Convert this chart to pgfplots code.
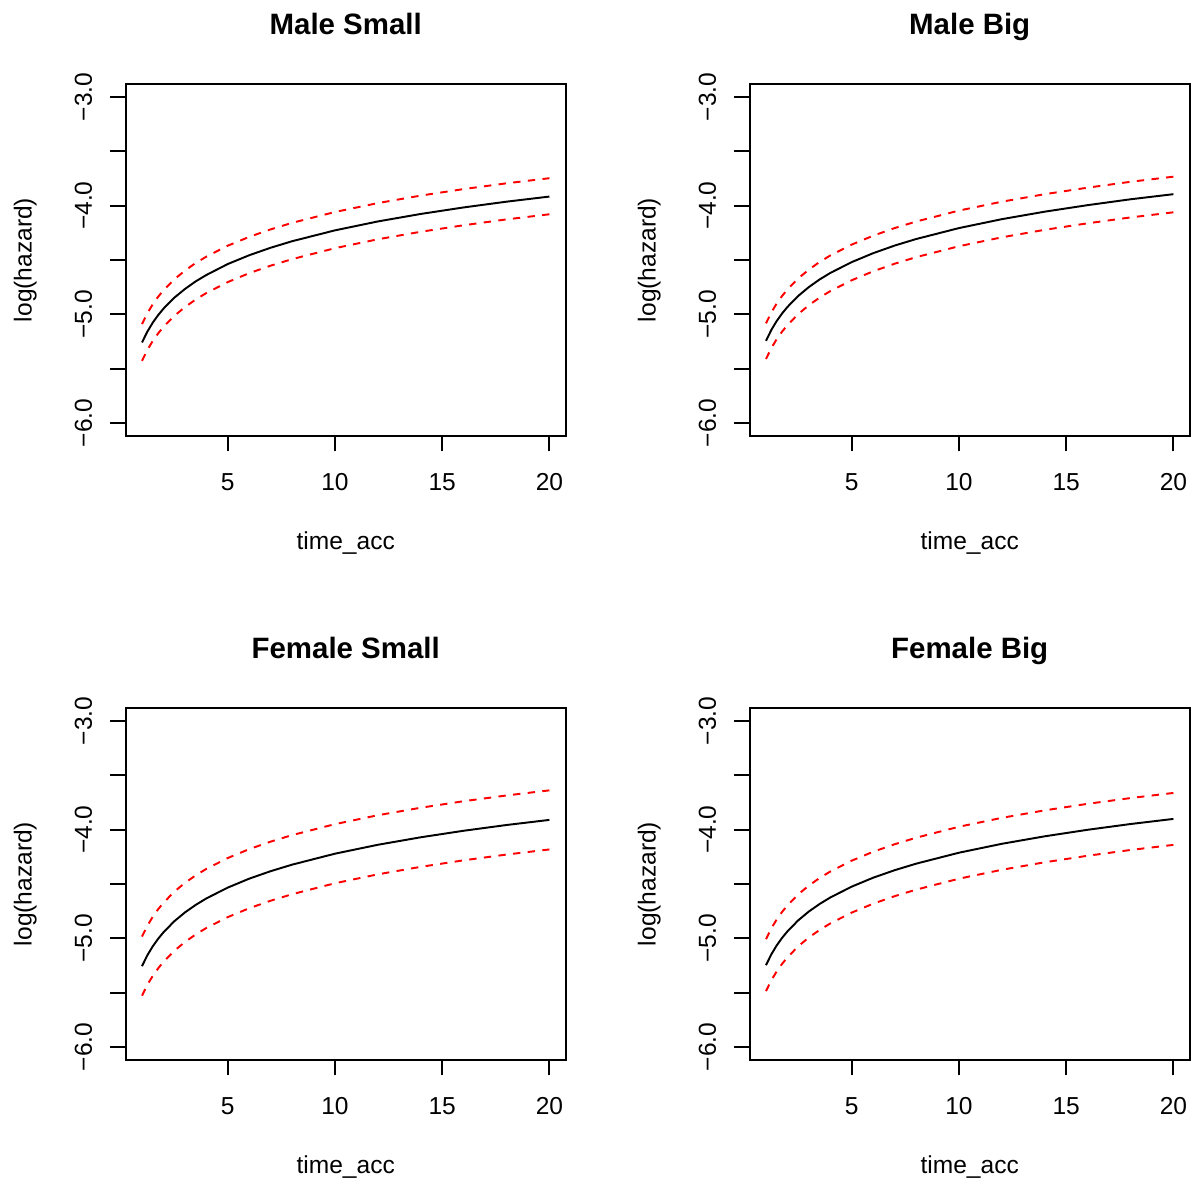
\documentclass[border=0pt]{standalone}
\usepackage{fontspec}
\setmainfont{Liberation Sans}
\usepackage{pgfplots}
\usepackage{pgfplotstable}
\pgfplotsset{compat=1.18}

\pgfplotstableread{
t fit lo hi
1 -5.259 -5.428 -5.090
1.25 -5.159 -5.328 -4.990
1.5 -5.077 -5.245 -4.908
1.75 -5.008 -5.176 -4.839
2 -4.948 -5.116 -4.779
2.5 -4.848 -5.015 -4.679
3 -4.767 -4.934 -4.598
3.5 -4.697 -4.864 -4.528
4 -4.638 -4.804 -4.469
5 -4.537 -4.703 -4.368
6 -4.456 -4.621 -4.287
7 -4.387 -4.552 -4.218
8 -4.327 -4.492 -4.158
10 -4.227 -4.391 -4.058
12 -4.145 -4.309 -3.976
14 -4.076 -4.240 -3.907
16 -4.016 -4.180 -3.847
18 -3.963 -4.126 -3.794
20 -3.916 -4.079 -3.747
}\maleSmall

\pgfplotstableread{
t fit lo hi
1 -5.244 -5.411 -5.083
1.25 -5.143 -5.310 -4.982
1.5 -5.061 -5.228 -4.900
1.75 -4.992 -5.159 -4.831
2 -4.932 -5.099 -4.771
2.5 -4.831 -4.998 -4.670
3 -4.749 -4.916 -4.588
3.5 -4.679 -4.846 -4.518
4 -4.619 -4.786 -4.458
5 -4.519 -4.686 -4.358
6 -4.437 -4.604 -4.276
7 -4.367 -4.534 -4.206
8 -4.307 -4.474 -4.146
10 -4.206 -4.373 -4.045
12 -4.124 -4.291 -3.963
14 -4.055 -4.222 -3.894
16 -3.995 -4.162 -3.834
18 -3.941 -4.108 -3.780
20 -3.894 -4.061 -3.733
}\maleBig

\pgfplotstableread{
t fit lo hi
1 -5.256 -5.528 -4.984
1.25 -5.156 -5.428 -4.884
1.5 -5.074 -5.346 -4.802
1.75 -5.005 -5.277 -4.733
2 -4.945 -5.217 -4.673
2.5 -4.844 -5.116 -4.572
3 -4.762 -5.034 -4.490
3.5 -4.693 -4.965 -4.421
4 -4.633 -4.905 -4.361
5 -4.533 -4.805 -4.261
6 -4.451 -4.723 -4.179
7 -4.382 -4.654 -4.110
8 -4.322 -4.594 -4.050
10 -4.221 -4.493 -3.949
12 -4.139 -4.411 -3.867
14 -4.070 -4.342 -3.798
16 -4.010 -4.282 -3.738
18 -3.957 -4.229 -3.685
20 -3.910 -4.182 -3.638
}\femaleSmall

\pgfplotstableread{
t fit lo hi
1 -5.247 -5.486 -5.008
1.25 -5.147 -5.386 -4.908
1.5 -5.065 -5.304 -4.826
1.75 -4.996 -5.235 -4.757
2 -4.936 -5.175 -4.697
2.5 -4.835 -5.074 -4.596
3 -4.753 -4.992 -4.514
3.5 -4.684 -4.923 -4.445
4 -4.624 -4.863 -4.385
5 -4.524 -4.763 -4.285
6 -4.442 -4.681 -4.203
7 -4.373 -4.612 -4.134
8 -4.313 -4.552 -4.074
10 -4.212 -4.451 -3.973
12 -4.130 -4.369 -3.891
14 -4.061 -4.300 -3.822
16 -4.001 -4.240 -3.762
18 -3.948 -4.187 -3.709
20 -3.901 -4.140 -3.662
}\femaleBig

\pgfplotsset{
  rpanel/.style={
    scale only axis,
    width=215.16pt, height=172.13pt,
    anchor=south west,
    xmin=0.24, xmax=20.76,
    ymin=-6.12, ymax=-2.88,
    xtick={5,10,15,20},
    xticklabels={5,10,15,20},
    ytick={-6,-5.5,-5,-4.5,-4,-3.5,-3},
    yticklabels={−6.0,,−5.0,,−4.0,,−3.0},
    tick pos=left,
    tick align=outside,
    major tick length=7.5pt,
    axis line style={line width=0.95pt, black},
    every tick/.style={line width=0.95pt, black},
    xticklabel style={font=\fontsize{12}{14}\selectfont, anchor=base, yshift=-19pt},
    yticklabel style={font=\fontsize{12}{14}\selectfont, xshift=-9pt, rotate=90, anchor=base},
    xlabel={time\_acc},
    ylabel={log(hazard)},
    xlabel style={font=\fontsize{12}{14}\selectfont, at={(axis description cs:0.5,-0.3213)}, anchor=base},
    ylabel style={font=\fontsize{12}{14}\selectfont, at={(axis description cs:-0.2138,0.5)}, anchor=base, rotate=0},
    title style={font=\bfseries\fontsize{14.4}{17}\selectfont, at={(axis description cs:0.5,1.142)}, anchor=base, yshift=-6pt},
  },
  fitline/.style={black, line width=0.95pt, no marks},
  ciline/.style={red, line width=0.95pt, no marks, dash pattern=on 3.6pt off 3.6pt},
}

\begin{document}
\begin{tikzpicture}
\path[use as bounding box] (0,0) rectangle (585.33pt,577.02pt);

\begin{axis}[rpanel, at={(61.47pt,363.8pt)}, title={Male Small}]
\addplot[fitline] table[x=t,y=fit] {\maleSmall};
\addplot[ciline] table[x=t,y=lo] {\maleSmall};
\addplot[ciline] table[x=t,y=hi] {\maleSmall};
\end{axis}

\begin{axis}[rpanel, at={(366.6pt,363.8pt)}, title={Male Big}]
\addplot[fitline] table[x=t,y=fit] {\maleBig};
\addplot[ciline] table[x=t,y=lo] {\maleBig};
\addplot[ciline] table[x=t,y=hi] {\maleBig};
\end{axis}

\begin{axis}[rpanel, at={(61.47pt,58.68pt)}, title={Female Small}]
\addplot[fitline] table[x=t,y=fit] {\femaleSmall};
\addplot[ciline] table[x=t,y=lo] {\femaleSmall};
\addplot[ciline] table[x=t,y=hi] {\femaleSmall};
\end{axis}

\begin{axis}[rpanel, at={(366.6pt,58.68pt)}, title={Female Big}]
\addplot[fitline] table[x=t,y=fit] {\femaleBig};
\addplot[ciline] table[x=t,y=lo] {\femaleBig};
\addplot[ciline] table[x=t,y=hi] {\femaleBig};
\end{axis}
\end{tikzpicture}
\end{document}
